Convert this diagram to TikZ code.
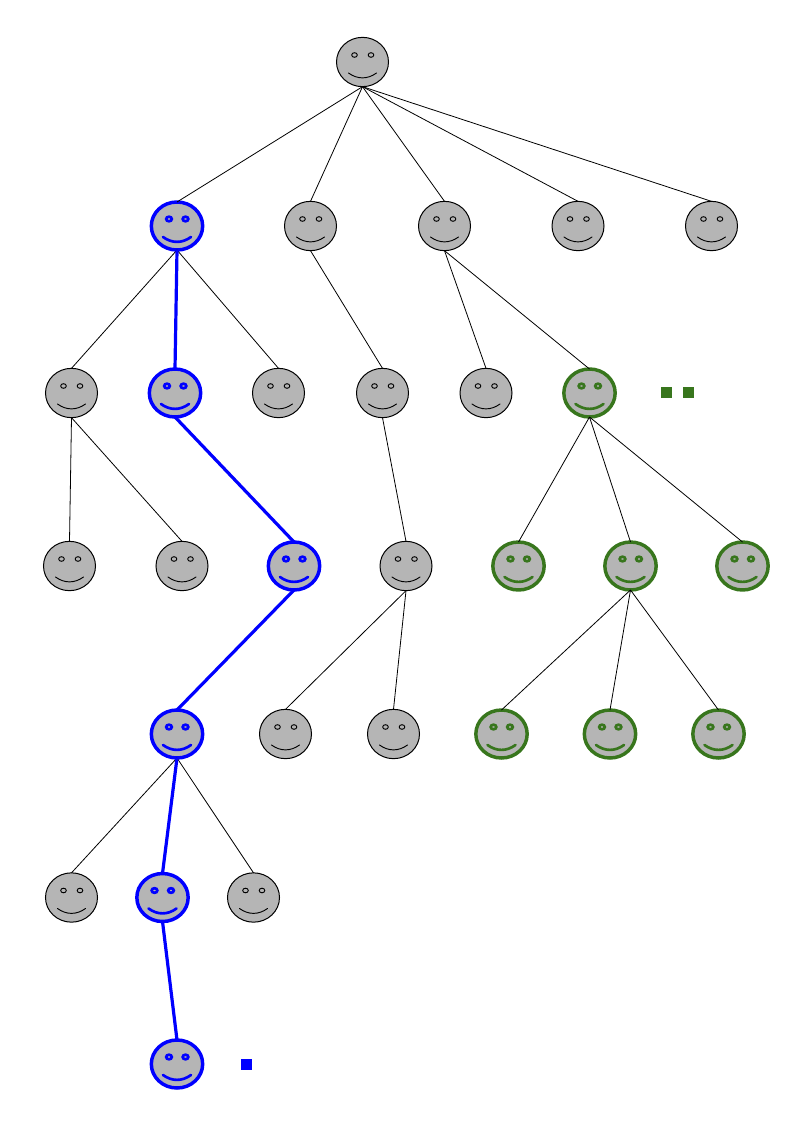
\documentclass[tikz,border=0pt]{standalone}
\usepackage{tikz}
\usetikzlibrary{shapes.geometric}
\definecolor{facegray}{HTML}{B5B5B5}
\definecolor{pathgreen}{HTML}{38761D}
\newcommand{\facedetails}[2]{%
    \begin{scope}[shift={(path picture bounding box.center)},draw=#1,line width=#2]
    \draw (-8,-7) ellipse (2.8 and 2.3);
    \draw (8.5,-7) ellipse (2.8 and 2.3);
    \draw[line cap=round] (-14,11) .. controls (-5,17.5) and (5,17.5) .. (14,11);
    \end{scope}}
\tikzset{
    face/.style={ellipse,draw=black,fill=facegray,line width=0.75pt,inner sep=0pt,outer sep=0pt,
        minimum width=39pt,minimum height=37pt,path picture={\facedetails{black}{0.7pt}}},
    blueface/.style={face,draw=blue,line width=2.6pt,minimum width=38.5pt,minimum height=36pt,
        path picture={\facedetails{blue}{2pt}}},
    greenface/.style={face,draw=pathgreen,line width=2.6pt,minimum width=38.5pt,minimum height=36pt,
        path picture={\facedetails{pathgreen}{2pt}}},
    mark blue/.style={rectangle,fill=blue,inner sep=0pt,minimum size=8.25pt},
    mark green/.style={rectangle,fill=pathgreen,inner sep=0pt,minimum size=8.25pt},
    edge plain/.style={draw=black,line width=0.6pt},
    edge blue/.style={draw=blue,line width=2.4pt}
}
\begin{document}
\begin{tikzpicture}[x=0.75pt,y=-0.75pt]
    \useasboundingbox (0,0) rectangle (793,1121);
    % level 0 and 1
    \node[face] (root) at (362.5,62) {};
    \node[blueface] (a1) at (177,226) {};
    \node[face] (a2) at (310.5,226) {};
    \node[face] (a3) at (444.5,226) {};
    \node[face] (a4) at (578,226) {};
    \node[face] (a5) at (711.5,226) {};
    % level 2
    \node[face] (b1) at (71.5,393) {};
    \node[blueface] (b2) at (175,393) {};
    \node[face] (b3) at (278.5,393) {};
    \node[face] (b4) at (382.5,393) {};
    \node[face] (b5) at (486,393) {};
    \node[greenface] (b6) at (589.5,393) {};
    \node[mark green] (m1) at (666,392) {};
    \node[mark green] (m2) at (688,392) {};
    % level 3
    \node[face] (c1) at (69.5,566) {};
    \node[face] (c2) at (182,566) {};
    \node[blueface] (c3) at (294,566) {};
    \node[face] (c4) at (406,566) {};
    \node[greenface] (c5) at (518.5,566) {};
    \node[greenface] (c6) at (630.5,566) {};
    \node[greenface] (c7) at (742.5,566) {};
    % level 4
    \node[blueface] (d1) at (177,734) {};
    \node[face] (d2) at (285.5,734) {};
    \node[face] (d3) at (393.5,734) {};
    \node[greenface] (d4) at (501.5,734) {};
    \node[greenface] (d5) at (610,734) {};
    \node[greenface] (d6) at (718.5,734) {};
    % level 5 and 6
    \node[face] (e1) at (71.5,897.5) {};
    \node[blueface] (e2) at (162.5,897.5) {};
    \node[face] (e3) at (253.5,897.5) {};
    \node[blueface] (f1) at (177,1064) {};
    \node[mark blue] (m3) at (246,1064) {};
    % plain edges
    \draw[edge plain] (root.south)--(a1.north);
    \draw[edge plain] (root.south)--(a2.north);
    \draw[edge plain] (root.south)--(a3.north);
    \draw[edge plain] (root.south)--(a4.north);
    \draw[edge plain] (root.south)--(a5.north);
    \draw[edge plain] (a1.south)--(b1.north);
    \draw[edge plain] (a1.south)--(b3.north);
    \draw[edge plain] (a2.south)--(b4.north);
    \draw[edge plain] (a3.south)--(b5.north);
    \draw[edge plain] (a3.south)--(b6.north);
    \draw[edge plain] (b1.south)--(c1.north);
    \draw[edge plain] (b1.south)--(c2.north);
    \draw[edge plain] (b4.south)--(c4.north);
    \draw[edge plain] (b6.south)--(c5.north);
    \draw[edge plain] (b6.south)--(c6.north);
    \draw[edge plain] (b6.south)--(c7.north);
    \draw[edge plain] (c4.south)--(d2.north);
    \draw[edge plain] (c4.south)--(d3.north);
    \draw[edge plain] (c6.south)--(d4.north);
    \draw[edge plain] (c6.south)--(d5.north);
    \draw[edge plain] (c6.south)--(d6.north);
    \draw[edge plain] (d1.south)--(e1.north);
    \draw[edge plain] (d1.south)--(e3.north);
    % blue path
    \draw[edge blue] (a1.south)--(b2.north);
    \draw[edge blue] (b2.south)--(c3.north);
    \draw[edge blue] (c3.south)--(d1.north);
    \draw[edge blue] (d1.south)--(e2.north);
    \draw[edge blue] (e2.south)--(f1.north);
\end{tikzpicture}
\end{document}
